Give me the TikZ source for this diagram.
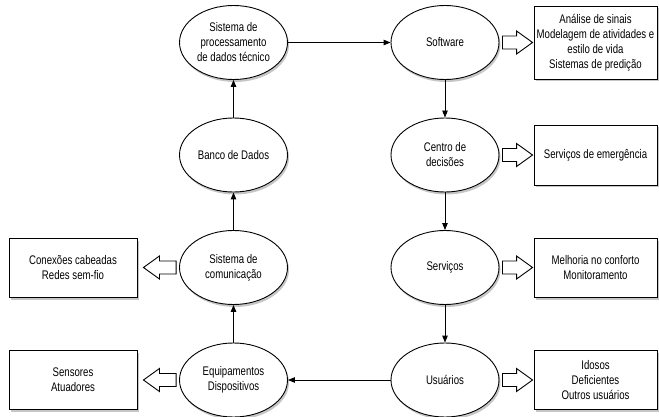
\documentclass[tikz,border=0pt]{standalone}
\usepackage{fontspec}
\setmainfont{Liberation Sans}[FakeStretch=0.77]
\usetikzlibrary{positioning,shapes.geometric,shadows,calc,arrows.meta}

% hollow block arrow from #1 to #2
\newcommand{\hollowarrow}[2]{%
  \coordinate (ha) at ($(#2)!16pt!(#1)$);
  \draw[fill=white] ($(#1)!6.5pt!90:(#2)$) -- ($(ha)!6.5pt!-90:(#1)$)
    -- ($(ha)!11.5pt!-90:(#1)$) -- (#2) -- ($(ha)!11.5pt!90:(#1)$)
    -- ($(ha)!6.5pt!90:(#1)$) -- ($(#1)!6.5pt!-90:(#2)$) -- cycle;}

\begin{document}
\begin{tikzpicture}[x=1pt,y=1pt,line width=0.9pt,>={Triangle[length=7pt,width=5.5pt]},
  on grid,node distance={112.5pt and 211.5pt},
  every node/.style={font=\fontsize{12.5}{15}\selectfont},
  main/.style = {draw, ellipse, fill=white, minimum width=108pt, minimum height=74pt, inner sep=0pt, align=center,
    drop shadow={shadow xshift=1.5pt, shadow yshift=-2.5pt, opacity=0.45}},
  box/.style = {draw, rectangle, fill=white, minimum height=59pt, inner xsep=2pt, align=center,
    drop shadow={shadow xshift=1.5pt, shadow yshift=-2.5pt, opacity=0.45}}]
\useasboundingbox (0,0) rectangle (659,-417);
\node[main] (1) at (233.5,-42.5) {Sistema de\\processamento\\de dados técnico};
\node[main] (2) [below=of 1] {Banco de Dados};
\node[main] (3) [below=of 2] {Sistema de\\comunicação};
\node[main] (4) [below=of 3] {Equipamentos\\Dispositivos};
\node[main] (5) [right=of 1] {Software};
\node[main] (6) [below=of 5] {Centro de\\decisões};
\node[main] (7) [below=of 6] {Serviços};
\node[main] (8) [below=of 7] {Usuários};

\node[box, minimum width=123pt, minimum height=73pt] (9) [right=150.5pt of 5] {Análise de sinais\\Modelagem de atividades e\\estilo de vida\\Sistemas de predição};
\node[box, minimum width=123pt, minimum height=60pt] (10) [right=150.5pt of 6] {Serviços de emergência};
\node[box, minimum width=123pt] (11) [right=150.5pt of 7] {Melhoria no conforto\\Monitoramento};
\node[box, minimum width=123pt] (12) [right=150.5pt of 8] {Idosos\\Deficientes\\Outros usuários};
\node[box, minimum width=128pt] (13) [left=160.5pt of 3] {Conexões cabeadas\\Redes sem-fio};
\node[box, minimum width=128pt] (14) [left=160.5pt of 4] {Sensores\\Atuadores};

\path[->]
    (1) edge (5)
    (5) edge (6)
    (6) edge (7)
    (7) edge (8)
    (8) edge (4)
    (4) edge (3)
    (3) edge (2)
    (2) edge (1);

\hollowarrow{[xshift=3pt]5.east}{[xshift=-1pt]9.west}
\hollowarrow{[xshift=3pt]6.east}{[xshift=-1pt]10.west}
\hollowarrow{[xshift=3pt]7.east}{[xshift=-1pt]11.west}
\hollowarrow{[xshift=3pt]8.east}{[xshift=-1pt]12.west}
\hollowarrow{[xshift=-3pt]3.west}{[xshift=6pt]13.east}
\hollowarrow{[xshift=-3pt]4.west}{[xshift=6pt]14.east}
\end{tikzpicture}
\end{document}
